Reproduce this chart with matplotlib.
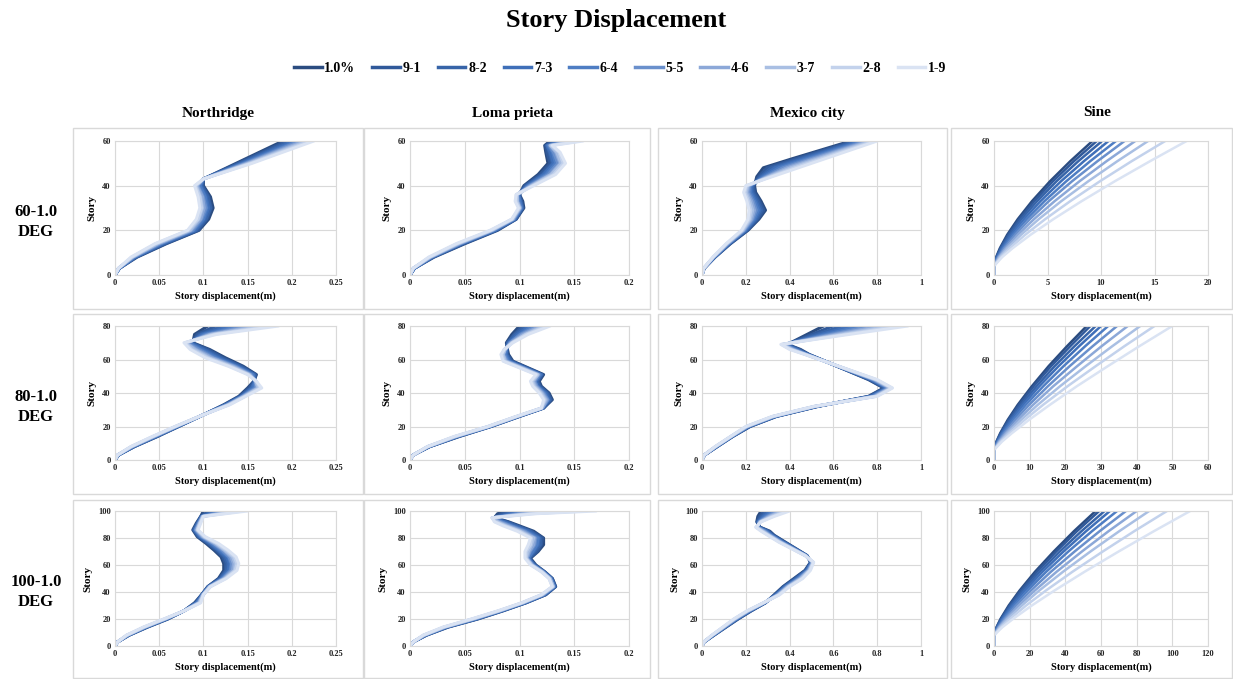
import numpy as np
import matplotlib.pyplot as plt
from matplotlib.patches import Rectangle
from matplotlib.lines import Line2D

plt.rcParams['font.family'] = ['Liberation Serif', 'DejaVu Serif']

series = ['1.0%', '9-1', '8-2', '7-3', '6-4', '5-5', '4-6', '3-7', '2-8', '1-9']
colors = ['#2B4C80', '#30599A', '#3764A8', '#3F6FB8', '#4E7DC3',
          '#6A90CC', '#8CA8D8', '#A9BFE3', '#C3D2EC', '#DAE3F3']
quakes = ['Northridge', 'Loma prieta', 'Mexico city', 'Sine']
models = ['60-1.0\nDEG', '80-1.0\nDEG', '100-1.0\nDEG']

# x axis: (max, step) per panel
xaxes = [[(0.25, 0.05), (0.2, 0.05), (1, 0.2), (20, 5)],
         [(0.25, 0.05), (0.2, 0.05), (1, 0.2), (60, 10)],
         [(0.25, 0.05), (0.2, 0.05), (1, 0.2), (120, 20)]]
stories = [60, 80, 100]

# ---- each table: one row per story level, one column per series (1.0% ... 1-9)
story_nr60 = [0, 3, 8, 14, 20, 25, 30, 35, 40, 43, 50, 60]
disp_nr60 = [
    [0, 0, 0, 0, 0, 0, 0, 0, 0, 0],
    [.005, .005, .005, .005, .005, .004, .004, .004, .004, .004],
    [.025, .024, .023, .023, .022, .021, .020, .020, .019, .018],
    [.058, .057, .055, .054, .052, .051, .049, .048, .046, .045],
    [.095, .094, .092, .091, .089, .088, .086, .085, .083, .082],
    [.106, .104, .103, .101, .100, .098, .097, .095, .094, .092],
    [.111, .109, .108, .106, .104, .103, .101, .099, .098, .096],
    [.108, .106, .105, .103, .102, .100, .099, .097, .096, .094],
    [.100, .099, .098, .097, .096, .094, .093, .092, .091, .090],
    [.100, .100, .100, .100, .100, .100, .100, .100, .100, .100],
    [.137, .139, .141, .143, .145, .147, .149, .151, .153, .155],
    [.190, .194, .198, .202, .206, .209, .213, .217, .221, .225],
]

story_lp60 = [0, 3, 8, 14, 20, 25, 30, 33, 36, 40, 45, 50, 55, 58, 60]
disp_lp60 = [
    [0, 0, 0, 0, 0, 0, 0, 0, 0, 0],
    [.004, .004, .004, .004, .004, .003, .003, .003, .003, .003],
    [.022, .021, .021, .020, .020, .019, .019, .018, .018, .017],
    [.050, .049, .048, .047, .046, .046, .045, .044, .043, .042],
    [.080, .079, .078, .078, .077, .076, .075, .075, .074, .073],
    [.097, .097, .096, .096, .095, .095, .094, .094, .093, .093],
    [.104, .103, .103, .102, .102, .101, .101, .100, .100, .099],
    [.103, .102, .101, .101, .100, .099, .098, .098, .097, .096],
    [.100, .100, .099, .099, .099, .098, .098, .098, .097, .097],
    [.104, .105, .106, .107, .108, .109, .110, .111, .112, .113],
    [.117, .119, .121, .122, .124, .126, .128, .129, .131, .133],
    [.126, .128, .130, .131, .133, .135, .137, .138, .140, .142],
    [.124, .125, .127, .128, .130, .131, .133, .134, .136, .137],
    [.123, .124, .125, .125, .126, .127, .128, .128, .129, .130],
    [.128, .131, .135, .138, .141, .145, .148, .151, .155, .158],
]

story_mc60 = [0, 3, 8, 14, 20, 25, 29, 33, 37, 40, 44, 48, 52, 56, 60]
disp_mc60 = [
    [0, 0, 0, 0, 0, 0, 0, 0, 0, 0],
    [.010, .010, .010, .009, .009, .009, .009, .008, .008, .008],
    [.060, .059, .058, .057, .056, .054, .053, .052, .051, .050],
    [.130, .128, .126, .123, .121, .119, .117, .114, .112, .110],
    [.210, .207, .203, .200, .197, .193, .190, .187, .183, .180],
    [.260, .254, .249, .243, .238, .232, .227, .221, .216, .210],
    [.290, .282, .273, .265, .257, .248, .240, .232, .223, .215],
    [.270, .263, .256, .248, .241, .234, .227, .219, .212, .205],
    [.245, .239, .233, .227, .221, .214, .208, .202, .196, .190],
    [.240, .236, .231, .227, .222, .218, .213, .209, .204, .200],
    [.250, .258, .266, .273, .281, .289, .297, .304, .312, .320],
    [.280, .298, .316, .333, .351, .369, .387, .404, .422, .440],
    [.410, .427, .443, .460, .477, .493, .510, .527, .543, .560],
    [.545, .560, .575, .590, .605, .620, .635, .650, .665, .680],
    [.680, .693, .707, .720, .733, .747, .760, .773, .787, .800],
]

story_sn60 = [0, 4, 8, 12, 18, 25, 33, 42, 51, 60]
disp_sn60 = [
    [0, 0, 0, 0, 0, 0, 0, 0, 0, 0],
    [0, 0, 0, 0, 0, 0, 0, 0, 0, 0],
    [.20, .23, .26, .30, .34, .39, .45, .53, .63, .76],
    [.55, .60, .67, .75, .85, .95, 1.09, 1.25, 1.47, 1.74],
    [1.23, 1.33, 1.45, 1.60, 1.78, 1.97, 2.22, 2.52, 2.91, 3.41],
    [2.22, 2.37, 2.55, 2.79, 3.05, 3.35, 3.74, 4.18, 4.78, 5.55],
    [3.54, 3.75, 4.01, 4.33, 4.70, 5.11, 5.65, 6.27, 7.11, 8.17],
    [5.24, 5.51, 5.85, 6.27, 6.76, 7.30, 8.00, 8.82, 9.91, 11.3],
    [7.14, 7.48, 7.89, 8.41, 9.00, 9.68, 10.53, 11.54, 12.88, 14.6],
    [9.2, 9.6, 10.1, 10.7, 11.4, 12.2, 13.2, 14.4, 16.0, 18.0],
]

story_nr80 = [0, 3, 8, 14, 20, 27, 33, 38, 43, 47, 51, 56, 61, 66, 70, 75, 80]
disp_nr80 = [
    [0, 0, 0, 0, 0, 0, 0, 0, 0, 0],
    [.004, .004, .004, .004, .004, .003, .003, .003, .003, .003],
    [.022, .022, .021, .021, .020, .020, .019, .019, .018, .018],
    [.048, .047, .047, .046, .045, .045, .044, .043, .043, .042],
    [.072, .072, .071, .071, .070, .070, .069, .069, .068, .068],
    [.100, .100, .100, .100, .100, .100, .100, .100, .100, .100],
    [.123, .124, .125, .125, .126, .127, .128, .128, .129, .130],
    [.140, .141, .142, .143, .144, .144, .145, .146, .147, .148],
    [.150, .152, .154, .155, .157, .159, .161, .162, .164, .166],
    [.157, .157, .158, .158, .158, .159, .159, .159, .160, .160],
    [.160, .159, .158, .157, .156, .154, .153, .152, .151, .150],
    [.145, .143, .141, .139, .137, .136, .134, .132, .130, .128],
    [.125, .122, .120, .117, .115, .112, .110, .107, .105, .102],
    [.107, .105, .102, .100, .097, .095, .092, .090, .087, .085],
    [.088, .087, .086, .085, .084, .082, .081, .080, .079, .078],
    [.090, .093, .096, .098, .101, .104, .107, .109, .112, .115],
    [.105, .114, .123, .132, .141, .149, .158, .167, .176, .185],
]

story_lp80 = [0, 3, 8, 14, 20, 26, 31, 36, 40, 44, 47, 51, 55, 59, 63, 66, 70, 75, 80]
disp_lp80 = [
    [0, 0, 0, 0, 0, 0, 0, 0, 0, 0],
    [.003, .003, .003, .003, .003, .003, .003, .003, .003, .003],
    [.018, .018, .018, .017, .017, .017, .017, .016, .016, .016],
    [.045, .044, .044, .043, .043, .042, .042, .041, .041, .040],
    [.074, .074, .073, .073, .073, .072, .072, .072, .071, .071],
    [.100, .100, .099, .099, .099, .098, .098, .098, .097, .097],
    [.122, .122, .122, .121, .121, .121, .121, .120, .120, .120],
    [.130, .129, .128, .127, .126, .126, .125, .124, .123, .122],
    [.127, .126, .125, .124, .123, .122, .121, .120, .119, .118],
    [.120, .119, .118, .117, .116, .116, .115, .114, .113, .112],
    [.118, .117, .116, .115, .114, .114, .113, .112, .111, .110],
    [.122, .121, .120, .120, .119, .118, .117, .117, .116, .115],
    [.108, .107, .106, .105, .104, .104, .103, .102, .101, .100],
    [.094, .093, .092, .091, .090, .089, .088, .087, .086, .085],
    [.090, .089, .088, .088, .087, .086, .085, .085, .084, .083],
    [.089, .089, .088, .088, .088, .087, .087, .087, .086, .086],
    [.088, .089, .089, .090, .091, .091, .092, .093, .093, .094],
    [.093, .095, .096, .098, .100, .101, .103, .105, .106, .108],
    [.100, .103, .106, .109, .112, .116, .119, .122, .125, .128],
]

story_mc80 = [0, 3, 8, 14, 20, 26, 32, 38, 43, 48, 53, 58, 63, 66, 69, 74, 80]
disp_mc80 = [
    [0, 0, 0, 0, 0, 0, 0, 0, 0, 0],
    [.012, .012, .012, .011, .011, .011, .011, .010, .010, .010],
    [.070, .069, .068, .067, .066, .064, .063, .062, .061, .060],
    [.140, .139, .138, .137, .136, .134, .133, .132, .131, .130],
    [.220, .218, .216, .213, .211, .209, .207, .204, .202, .200],
    [.340, .338, .336, .333, .331, .329, .327, .324, .322, .320],
    [.530, .528, .526, .523, .521, .519, .517, .514, .512, .510],
    [.760, .764, .769, .773, .778, .782, .787, .791, .796, .800],
    [.830, .834, .839, .843, .848, .852, .857, .861, .866, .870],
    [.760, .764, .769, .773, .778, .782, .787, .791, .796, .800],
    [.670, .672, .674, .677, .679, .681, .683, .686, .688, .690],
    [.580, .580, .580, .580, .580, .580, .580, .580, .580, .580],
    [.490, .488, .486, .483, .481, .479, .477, .474, .472, .470],
    [.450, .444, .439, .433, .428, .422, .417, .411, .406, .400],
    [.390, .387, .383, .380, .377, .373, .370, .367, .363, .360],
    [.465, .482, .499, .517, .534, .551, .568, .586, .603, .620],
    [.555, .598, .641, .683, .726, .769, .812, .854, .897, .940],
]

story_sn80 = [0, 6, 11, 16, 24, 33, 44, 56, 68, 80]
disp_sn80 = [
    [0, 0, 0, 0, 0, 0, 0, 0, 0, 0],
    [0, 0, 0, 0, 0, 0, 0, 0, 0, 0],
    [.68, .75, .84, .94, 1.07, 1.24, 1.43, 1.66, 1.92, 2.25],
    [1.74, 1.88, 2.08, 2.29, 2.56, 2.90, 3.31, 3.78, 4.33, 5.01],
    [3.86, 4.11, 4.48, 4.86, 5.36, 5.98, 6.73, 7.60, 8.60, 9.85],
    [6.67, 7.05, 7.61, 8.18, 8.93, 9.87, 11.0, 12.3, 13.8, 15.7],
    [10.6, 11.1, 11.9, 12.7, 13.8, 15.1, 16.6, 18.5, 20.6, 23.2],
    [15.3, 16.0, 17.0, 18.1, 19.5, 21.2, 23.3, 25.7, 28.5, 31.9],
    [20.5, 21.4, 22.6, 23.9, 25.6, 27.7, 30.2, 33.2, 36.6, 40.8],
    [26, 27, 28.5, 30, 32, 34.5, 37.5, 41, 45, 50],
]

story_nr100 = [0, 3, 8, 14, 20, 26, 32, 38, 44, 50, 56, 61, 66, 71, 76, 81, 86, 91, 96, 100]
disp_nr100 = [
    [0, 0, 0, 0, 0, 0, 0, 0, 0, 0],
    [.003, .003, .003, .003, .003, .003, .003, .003, .003, .003],
    [.016, .016, .015, .015, .015, .014, .014, .014, .013, .013],
    [.037, .036, .036, .035, .035, .034, .034, .033, .033, .032],
    [.060, .059, .059, .058, .058, .057, .057, .056, .056, .055],
    [.078, .078, .078, .078, .078, .078, .078, .078, .078, .078],
    [.090, .091, .092, .092, .093, .094, .095, .095, .096, .097],
    [.098, .098, .098, .099, .099, .099, .099, .100, .100, .100],
    [.105, .105, .106, .106, .106, .107, .107, .107, .108, .108],
    [.117, .118, .119, .120, .121, .122, .123, .124, .125, .126],
    [.123, .125, .126, .128, .130, .131, .133, .135, .136, .138],
    [.123, .125, .127, .129, .131, .132, .134, .136, .138, .140],
    [.120, .122, .124, .126, .128, .129, .131, .133, .135, .137],
    [.112, .114, .116, .117, .119, .121, .123, .124, .126, .128],
    [.103, .105, .106, .108, .109, .111, .112, .114, .115, .117],
    [.093, .094, .095, .096, .097, .098, .099, .100, .101, .102],
    [.088, .089, .089, .090, .091, .091, .092, .093, .093, .094],
    [.092, .093, .093, .094, .094, .095, .095, .096, .096, .097],
    [.097, .097, .098, .098, .098, .099, .099, .099, .100, .100],
    [.100, .106, .111, .117, .122, .128, .133, .139, .144, .150],
]

story_lp100 = [0, 3, 8, 14, 20, 26, 32, 38, 44, 50, 55, 60, 65, 70, 75, 80, 85, 89, 92, 95, 98, 100]
disp_lp100 = [
    [0, 0, 0, 0, 0, 0, 0, 0, 0, 0],
    [.003, .003, .003, .003, .003, .003, .003, .003, .003, .003],
    [.015, .015, .014, .014, .014, .013, .013, .013, .012, .012],
    [.035, .034, .034, .033, .033, .032, .032, .031, .031, .030],
    [.062, .061, .061, .060, .059, .059, .058, .057, .057, .056],
    [.085, .084, .084, .083, .083, .082, .082, .081, .081, .080],
    [.106, .106, .105, .105, .104, .104, .103, .103, .102, .102],
    [.124, .124, .123, .123, .122, .122, .121, .121, .120, .120],
    [.133, .133, .132, .132, .132, .131, .131, .131, .130, .130],
    [.130, .130, .129, .129, .129, .128, .128, .128, .127, .127],
    [.123, .123, .122, .122, .122, .121, .121, .121, .120, .120],
    [.115, .114, .114, .113, .113, .112, .112, .111, .111, .110],
    [.110, .109, .109, .108, .108, .107, .107, .106, .106, .105],
    [.117, .116, .114, .113, .112, .110, .109, .108, .106, .105],
    [.122, .120, .119, .117, .116, .114, .113, .111, .110, .108],
    [.122, .121, .119, .118, .117, .115, .114, .113, .111, .110],
    [.113, .111, .110, .108, .106, .105, .103, .101, .100, .098],
    [.100, .098, .097, .095, .093, .092, .090, .088, .087, .085],
    [.090, .089, .087, .086, .084, .083, .081, .080, .078, .077],
    [.077, .077, .077, .076, .076, .076, .076, .075, .075, .075],
    [.080, .084, .088, .092, .096, .099, .103, .107, .111, .115],
    [.090, .099, .108, .117, .126, .134, .143, .152, .161, .170],
]

story_mc100 = [0, 3, 8, 14, 20, 26, 32, 38, 44, 50, 56, 62, 67, 72, 77, 82, 85, 88, 92, 96, 100]
disp_mc100 = [
    [0, 0, 0, 0, 0, 0, 0, 0, 0, 0],
    [.010, .010, .010, .009, .009, .009, .009, .008, .008, .008],
    [.055, .054, .053, .052, .051, .049, .048, .047, .046, .045],
    [.110, .108, .107, .105, .103, .102, .100, .098, .097, .095],
    [.165, .163, .161, .158, .156, .154, .152, .149, .147, .145],
    [.225, .223, .221, .218, .216, .214, .212, .209, .207, .205],
    [.290, .289, .288, .287, .286, .284, .283, .282, .281, .280],
    [.330, .333, .336, .338, .341, .344, .347, .349, .352, .355],
    [.370, .373, .377, .380, .383, .387, .390, .393, .397, .400],
    [.420, .424, .429, .433, .438, .442, .447, .451, .456, .460],
    [.470, .473, .476, .478, .481, .484, .487, .489, .492, .495],
    [.495, .497, .498, .500, .502, .503, .505, .507, .508, .510],
    [.480, .479, .478, .477, .476, .474, .473, .472, .471, .470],
    [.430, .428, .426, .423, .421, .419, .417, .414, .412, .410],
    [.380, .377, .373, .370, .367, .363, .360, .357, .353, .350],
    [.330, .327, .323, .320, .317, .313, .310, .307, .303, .300],
    [.310, .306, .301, .297, .292, .288, .283, .279, .274, .270],
    [.265, .263, .261, .258, .256, .254, .252, .249, .247, .245],
    [.250, .252, .254, .257, .259, .261, .263, .266, .268, .270],
    [.255, .263, .272, .280, .288, .297, .305, .313, .322, .330],
    [.270, .284, .299, .313, .328, .342, .357, .371, .386, .400],
]

story_sn100 = [0, 8, 14, 20, 30, 41, 55, 70, 85, 100]
disp_sn100 = [
    [0, 0, 0, 0, 0, 0, 0, 0, 0, 0],
    [0, 0, 0, 0, 0, 0, 0, 0, 0, 0],
    [1.43, 1.56, 1.74, 1.93, 2.18, 2.50, 2.88, 3.32, 3.95, 4.77],
    [3.64, 3.90, 4.29, 4.69, 5.21, 5.87, 6.66, 7.58, 8.89, 10.6],
    [8.26, 8.75, 9.48, 10.2, 11.2, 12.4, 13.9, 15.6, 18.0, 21.2],
    [14.3, 15.0, 16.1, 17.2, 18.7, 20.6, 22.8, 25.3, 29.0, 33.8],
    [23.0, 24.1, 25.6, 27.2, 29.3, 31.9, 35.1, 38.7, 44.0, 50.8],
    [33.5, 34.9, 36.9, 39.0, 41.7, 45.2, 49.3, 54.1, 61.0, 69.9],
    [44.8, 46.5, 49.0, 51.6, 54.9, 59.2, 64.2, 70.2, 78.6, 89.6],
    [57, 59, 62, 65, 69, 74, 80, 87, 97, 110],
]

panels = [
    [(story_nr60, disp_nr60), (story_lp60, disp_lp60), (story_mc60, disp_mc60), (story_sn60, disp_sn60)],
    [(story_nr80, disp_nr80), (story_lp80, disp_lp80), (story_mc80, disp_mc80), (story_sn80, disp_sn80)],
    [(story_nr100, disp_nr100), (story_lp100, disp_lp100), (story_mc100, disp_mc100), (story_sn100, disp_sn100)],
]

W, H = 1233, 679
fig = plt.figure(figsize=(W / 100, H / 100), dpi=100)

# pixel layout
ax_x = [(115, 336), (410, 629), (702, 921), (994, 1208)]
ax_y = [(141, 275), (326, 460), (511, 646)]
box_x = [(73, 363), (364, 650), (658, 947), (951, 1232)]
box_y = [(128, 309), (314, 494), (500, 678)]

grid_c = '#D9D9D9'
for r in range(3):
    for c in range(4):
        bx0, bx1 = box_x[c]
        by0, by1 = box_y[r]
        fig.patches.append(Rectangle((bx0 / W, 1 - by1 / H), (bx1 - bx0) / W, (by1 - by0) / H,
                                     transform=fig.transFigure, fill=False,
                                     edgecolor=grid_c, lw=1.0))
        x0, x1 = ax_x[c]
        y0, y1 = ax_y[r]
        ax = fig.add_axes([x0 / W, 1 - y1 / H, (x1 - x0) / W, (y1 - y0) / H])
        story, disp = panels[r][c]
        disp = np.array(disp)
        lw = 1.8 if c == 3 else 2.2
        for i in range(10):
            ax.plot(disp[:, i], story, color=colors[i], lw=lw,
                    solid_capstyle='round', solid_joinstyle='round')
        xmax, xstep = xaxes[r][c]
        ax.set_xlim(0, xmax)
        ax.set_ylim(0, stories[r])
        xt = np.arange(0, xmax + xstep / 2, xstep)
        ax.set_xticks(xt)
        ax.set_xticklabels([f'{v:g}' for v in np.round(xt, 3)])
        ax.set_yticks(np.arange(0, stories[r] + 1, 20))
        ax.grid(True, color=grid_c, lw=0.8)
        ax.set_axisbelow(True)
        for s in ax.spines.values():
            s.set_color(grid_c)
            s.set_linewidth(0.8)
        ax.tick_params(length=0, labelsize=6, pad=3, colors='#222222')
        for lab in ax.get_xticklabels() + ax.get_yticklabels():
            lab.set_fontweight('bold')
        ax.set_xlabel('Story displacement(m)', fontsize=7.5, fontweight='bold', labelpad=3)
        ax.set_ylabel('Story', fontsize=8, fontweight='bold', labelpad=4)

fig.text(0.5, 1 - 20 / H, 'Story Displacement', ha='center', va='center',
         fontsize=19, fontweight='bold')

col_cx = [218, 512, 807, 1097]
for c in range(4):
    fig.text(col_cx[c] / W, 1 - 113 / H, quakes[c], ha='center', va='center',
             fontsize=11, fontweight='bold')

row_cy = [222, 407, 592]
for r in range(3):
    fig.text(36 / W, 1 - row_cy[r] / H, models[r], ha='center', va='center',
             fontsize=12, fontweight='bold', linespacing=1.3)

handles = [Line2D([], [], color=colors[i], lw=2.5) for i in range(10)]
fig.legend(handles, series, loc='center', bbox_to_anchor=(0.503, 1 - 68 / H), ncol=10,
           frameon=False, prop={'size': 10, 'weight': 'bold'}, handlelength=2.0,
           handletextpad=0.2, columnspacing=1.2)

fig.savefig('out.png', dpi=100)
